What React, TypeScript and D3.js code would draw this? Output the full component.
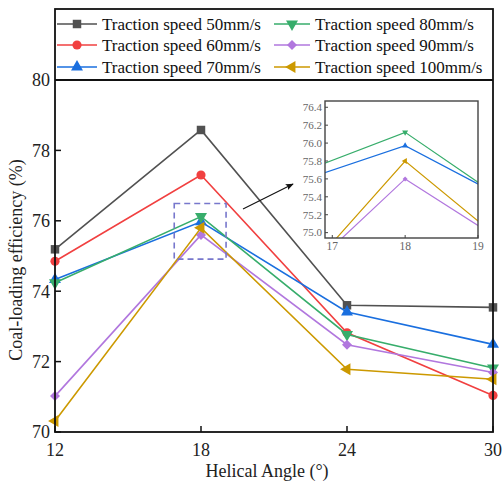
import React from "react";
import * as d3 from "d3";

// helical angles (deg)
const angles = [12, 18, 24, 30];

// coal-loading efficiency (%) for each traction speed
const speed50 = [75.19, 78.58, 73.6, 73.54];
const speed60 = [74.85, 77.3, 72.82, 71.04];
const speed70 = [74.33, 75.97, 73.41, 72.49];
const speed80 = [74.24, 76.12, 72.77, 71.82];
const speed90 = [71.02, 75.6, 72.48, 71.69];
const speed100 = [70.31, 75.8, 71.78, 71.5];

const yTicks = [70, 72, 74, 76, 78, 80];
const xTicks = [12, 18, 24, 30];
const insetYTicks = [75.0, 75.2, 75.4, 75.6, 75.8, 76.0, 76.2, 76.4];
const insetXTicks = [17, 18, 19];

const series = [
  { name: "Traction speed 50mm/s", values: speed50, color: "#515151", shape: "square" },
  { name: "Traction speed 60mm/s", values: speed60, color: "#F14040", shape: "circle" },
  { name: "Traction speed 70mm/s", values: speed70, color: "#1A6FDF", shape: "up" },
  { name: "Traction speed 80mm/s", values: speed80, color: "#37AD6B", shape: "down" },
  { name: "Traction speed 90mm/s", values: speed90, color: "#B177DE", shape: "diamond" },
  { name: "Traction speed 100mm/s", values: speed100, color: "#CC9900", shape: "left" },
];

const W = 502;
const H = 484;
const plot = { left: 55, right: 493, top: 80, bottom: 432 };
const inset = { left: 325, right: 478, top: 101, bottom: 238 };
const serif = { fontFamily: "Liberation Serif" };

function Marker({ shape, x, y, color, s = 1 }) {
  let type = d3.symbolSquare;
  let size = 72;
  let rot = 0;
  if (shape === "circle") { type = d3.symbolCircle; size = 66; }
  if (shape === "up") { type = d3.symbolTriangle; size = 62; }
  if (shape === "down") { type = d3.symbolTriangle; size = 62; rot = 180; }
  if (shape === "diamond") { type = d3.symbolSquare; size = 50; rot = 45; }
  if (shape === "left") { type = d3.symbolTriangle; size = 62; rot = -90; }
  const d = d3.symbol().type(type).size(size * s * s)();
  return <path d={d} fill={color} transform={`translate(${x},${y}) rotate(${rot})`} />;
}

export default function App() {
  const x = d3.scaleLinear().domain([12, 30]).range([plot.left, plot.right]);
  const y = d3.scaleLinear().domain([70, 80]).range([plot.bottom, plot.top]);
  const line = d3.line<number>().x((_, i) => x(angles[i])).y((v) => y(v));

  const ix = d3.scaleLinear().domain([16.9, 19]).range([inset.left, inset.right]);
  const iy = d3.scaleLinear().domain([74.94, 76.47]).range([inset.bottom, inset.top]);
  const iline = d3.line<number>().x((_, i) => ix(angles[i])).y((v) => iy(v));
  const insetSeries = [series[3], series[2], series[5], series[4]];

  // zoom box on main plot
  const bx0 = x(16.9), bx1 = x(19.03), by0 = y(76.49), by1 = y(74.91);

  const legendRows = [24, 45, 67];

  return (
    <svg width={W} height={H} style={{ position: "absolute", left: 0, top: 0, background: "#fff" }}>
      <defs>
        <clipPath id="insetClip">
          <rect x={inset.left} y={inset.top} width={inset.right - inset.left} height={inset.bottom - inset.top} />
        </clipPath>
        <marker id="arrow" viewBox="0 0 10 10" refX="9" refY="5" markerWidth="11" markerHeight="8" orient="auto" markerUnits="userSpaceOnUse">
          <path d="M0,1 L10,5 L0,9 L2,5 Z" fill="#111" />
        </marker>
      </defs>

      {/* main series */}
      {series.map((s) => (
        <g key={s.name}>
          <path d={line(s.values) || ""} fill="none" stroke={s.color} strokeWidth={1.6} />
          {s.values.map((v, i) => (
            <Marker key={i} shape={s.shape} x={x(angles[i])} y={y(v)} color={s.color} />
          ))}
        </g>
      ))}

      {/* dashed zoom box */}
      <rect x={bx0} y={by0} width={bx1 - bx0} height={by1 - by0} fill="none" stroke="#7777cc" strokeWidth={1.6} strokeDasharray="6,4" />

      {/* arrow */}
      <line x1={243} y1={209} x2={293} y2={184} stroke="#111" strokeWidth={1.1} markerEnd="url(#arrow)" />

      {/* frame */}
      <rect x={plot.left} y={9} width={plot.right - plot.left} height={plot.bottom - 9} fill="none" stroke="#111" strokeWidth={1.8} />
      <line x1={plot.left} x2={plot.right} y1={plot.top} y2={plot.top} stroke="#111" strokeWidth={1.8} />

      {/* y ticks */}
      {yTicks.map((t) => (
        <g key={t}>
          <line x1={plot.left} x2={plot.left + 6} y1={y(t)} y2={y(t)} stroke="#111" strokeWidth={1.5} />
          <text x={plot.left - 5} y={y(t)} dy="0.35em" textAnchor="end" style={serif} fontSize={18} fill="#222">{t}</text>
        </g>
      ))}
      {/* x ticks */}
      {xTicks.map((t) => (
        <g key={t}>
          <line x1={x(t)} x2={x(t)} y1={plot.bottom} y2={plot.bottom - 6} stroke="#111" strokeWidth={1.5} />
          <text x={x(t)} y={plot.bottom + 24} textAnchor="middle" style={serif} fontSize={18} fill="#222">{t}</text>
        </g>
      ))}

      <text x={267} y={477} textAnchor="middle" style={serif} fontSize={18} fill="#222">Helical Angle (°)</text>
      <text transform={`translate(22,260) rotate(-90)`} textAnchor="middle" style={serif} fontSize={18} fill="#222">Coal-loading efficiency (%)</text>

      {/* legend */}
      {series.map((s, i) => {
        const col = i < 3 ? 0 : 1;
        const row = i % 3;
        const lx0 = col === 0 ? 57 : 274;
        const lx1 = col === 0 ? 97 : 310;
        const ly = legendRows[row];
        return (
          <g key={s.name}>
            <line x1={lx0} x2={lx1} y1={ly} y2={ly} stroke={s.color} strokeWidth={1.6} />
            <Marker shape={s.shape} x={(lx0 + lx1) / 2} y={ly} color={s.color} />
            <text x={lx1 + 5} y={ly} dy="0.35em" style={serif} fontSize={17} fill="#111">{s.name}</text>
          </g>
        );
      })}

      {/* inset */}
      <rect x={inset.left} y={inset.top} width={inset.right - inset.left} height={inset.bottom - inset.top} fill="#fff" />
      <g clipPath="url(#insetClip)">
        {insetSeries.map((s) => (
          <g key={s.name}>
            <path d={iline(s.values) || ""} fill="none" stroke={s.color} strokeWidth={1.2} />
            {s.values.map((v, i) => (
              <Marker key={i} shape={s.shape} x={ix(angles[i])} y={iy(v)} color={s.color} s={0.5} />
            ))}
          </g>
        ))}
      </g>
      <rect x={inset.left} y={inset.top} width={inset.right - inset.left} height={inset.bottom - inset.top} fill="none" stroke="#444" strokeWidth={1.4} />
      {insetYTicks.map((t) => (
        <g key={t}>
          <line x1={inset.left} x2={inset.left + 3} y1={iy(t)} y2={iy(t)} stroke="#444" />
          <text x={inset.left - 3} y={iy(t)} dy="0.35em" textAnchor="end" style={serif} fontSize={11} fill="#666">{t.toFixed(1)}</text>
        </g>
      ))}
      {insetXTicks.map((t) => (
        <g key={t}>
          <line x1={ix(t)} x2={ix(t)} y1={inset.bottom} y2={inset.bottom - 3} stroke="#444" />
          <text x={ix(t)} y={inset.bottom + 12} textAnchor="middle" style={serif} fontSize={11.5} fill="#666">{t}</text>
        </g>
      ))}
    </svg>
  );
}
